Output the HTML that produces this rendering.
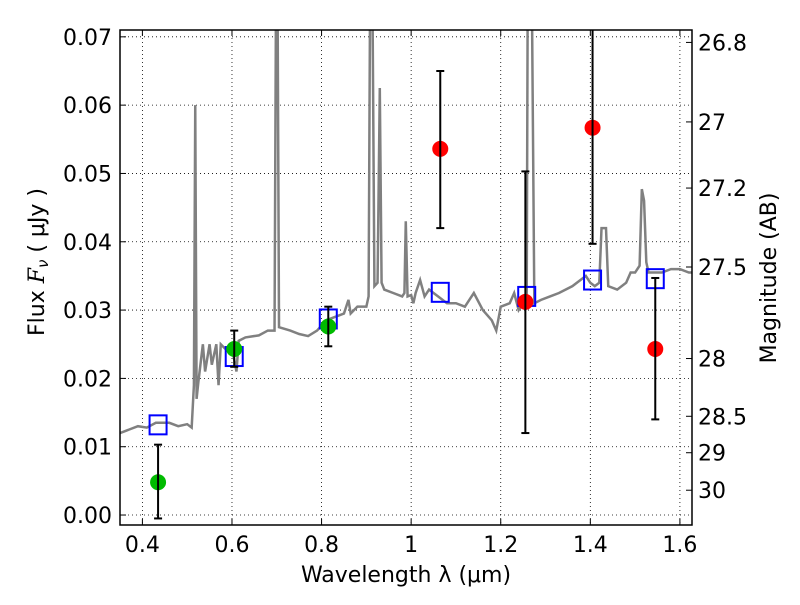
<!DOCTYPE html>
<html><head><meta charset="utf-8"><style>
body{margin:0;background:#fff}
svg text{font-family:"DejaVu Sans","Liberation Sans",sans-serif;font-size:22px;fill:#000}
</style></head><body>
<svg id="c" width="800" height="600" xmlns="http://www.w3.org/2000/svg"></svg>
<script>
const specX=[0.35,0.37,0.39,0.41,0.43,0.46,0.48,0.50,0.51,0.515,0.518,0.521,0.525,0.535,0.54,0.55,0.555,0.565,0.57,0.575,0.59,0.60,0.61,0.615,0.63,0.66,0.68,0.695,0.698,0.702,0.705,0.73,0.75,0.77,0.79,0.81,0.83,0.85,0.86,0.865,0.88,0.9,0.905,0.908,0.914,0.918,0.925,0.93,0.934,0.94,0.96,0.98,0.985,0.988,0.992,1.0,1.005,1.01,1.02,1.03,1.04,1.06,1.08,1.1,1.12,1.13,1.14,1.16,1.18,1.19,1.2,1.22,1.23,1.24,1.25,1.258,1.26,1.27,1.275,1.29,1.31,1.33,1.36,1.39,1.4,1.41,1.42,1.425,1.435,1.44,1.46,1.48,1.49,1.5,1.51,1.515,1.52,1.525,1.53,1.56,1.58,1.6,1.62,1.627];
const specY=[0.012,0.0125,0.013,0.0128,0.0135,0.0135,0.013,0.0133,0.0128,0.019,0.060,0.017,0.0195,0.025,0.021,0.025,0.022,0.025,0.019,0.025,0.024,0.0245,0.021,0.0255,0.026,0.0263,0.027,0.027,0.072,0.072,0.0275,0.027,0.0265,0.0262,0.027,0.0285,0.029,0.0295,0.0315,0.0295,0.0305,0.0305,0.032,0.072,0.072,0.0335,0.034,0.0625,0.034,0.033,0.0325,0.032,0.0325,0.043,0.032,0.0322,0.031,0.0325,0.0344,0.032,0.033,0.032,0.031,0.031,0.0305,0.0315,0.0325,0.030,0.0285,0.027,0.0305,0.031,0.0325,0.030,0.031,0.032,0.072,0.072,0.031,0.0315,0.032,0.0325,0.0335,0.035,0.034,0.0335,0.034,0.042,0.042,0.0335,0.033,0.034,0.0355,0.0355,0.0365,0.0477,0.046,0.037,0.0355,0.0355,0.036,0.036,0.0355,0.0355];
const greenX=[0.435,0.605,0.815], greenY=[0.0048,0.0243,0.0276], greenLo=[-0.0005,0.0217,0.0247], greenHi=[0.0103,0.0270,0.0305];
const redX=[1.065,1.255,1.405,1.545], redY=[0.0536,0.0312,0.0567,0.0243], redLo=[0.042,0.012,0.0397,0.014], redHi=[0.065,0.0503,0.074,0.0347];
const modelX=[0.435,0.605,0.815,1.065,1.258,1.405,1.545], modelY=[0.0132,0.0232,0.0287,0.0326,0.0320,0.0344,0.0346];
const xTicks=[0.4,0.6,0.8,1.0,1.2,1.4,1.6], xTickLabels=["0.4","0.6","0.8","1","1.2","1.4","1.6"];
const yTicks=[0,0.01,0.02,0.03,0.04,0.05,0.06,0.07], yTickLabels=["0.00","0.01","0.02","0.03","0.04","0.05","0.06","0.07"];
const magTicks=[26.8,27,27.2,27.5,28,28.5,29,30], magLabels=["26.8","27","27.2","27.5","28","28.5","29","30"];
const L=120,R=692,T=30,B=525;
const x0=0.35,x1=1.627,y0=-0.00146,y1=0.0710;
const X=v=>L+(v-x0)/(x1-x0)*(R-L);
const Y=v=>B-(v-y0)/(y1-y0)*(B-T);
const svg=document.getElementById('c');
const NS='http://www.w3.org/2000/svg';
function mk(tag,attrs,parent){const e=document.createElementNS(NS,tag);for(const k in attrs)e.setAttribute(k,attrs[k]);(parent||svg).appendChild(e);return e;}
const defs=mk('defs',{});const cp=mk('clipPath',{id:'clip'},defs);mk('rect',{x:L,y:T,width:R-L,height:B-T},cp);
xTicks.forEach((t,i)=>{const g=mk('line',{x1:X(t),x2:X(t),y1:T,y2:B,stroke:'#000','stroke-width':0.8,'stroke-dasharray':'1,3'});


mk('line',{x1:X(t),x2:X(t),y1:B,y2:B-6,stroke:'#000'});mk('line',{x1:X(t),x2:X(t),y1:T,y2:T+6,stroke:'#000'});
const tx=mk('text',{x:X(t),y:B+27,'text-anchor':'middle'});tx.textContent=xTickLabels[i];

});
yTicks.forEach((t,i)=>{const g=mk('line',{x1:L,x2:R,y1:Y(t),y2:Y(t),stroke:'#000','stroke-width':0.8,'stroke-dasharray':'1,3'});


mk('line',{x1:L,x2:L+6,y1:Y(t),y2:Y(t),stroke:'#000'});
const tx=mk('text',{x:L-8,y:Y(t)+8,'text-anchor':'end'});tx.textContent=yTickLabels[i];

});
magTicks.forEach((m,i)=>{const f=Math.pow(10,(23.9-m)/2.5);const y=Y(f);
mk('line',{x1:R,x2:R-6,y1:y,y2:y,stroke:'#000'});
const tx=mk('text',{x:R+6,y:y+8,'text-anchor':'start'});tx.textContent=magLabels[i];

});
const pl=mk('polyline',{points:specX.map((v,i)=>X(v)+','+Y(specY[i])).join(' '),fill:'none',stroke:'#808080','stroke-width':2.5,'clip-path':'url(#clip)'});


modelX.forEach((v,i)=>{const r=mk('rect',{x:X(v)-8.5,y:Y(modelY[i])-9.5,width:17,height:19,fill:'none',stroke:'#0000ff','stroke-width':2});

});
function pts(xs,ys,lo,hi,col,name){xs.forEach((v,i)=>{const g=mk('g',{'clip-path':'url(#clip)'});
const c=mk('circle',{cx:X(v),cy:Y(ys[i]),r:8,fill:col},g);


mk('line',{x1:X(v),x2:X(v),y1:Y(lo[i]),y2:Y(hi[i]),stroke:'#000','stroke-width':2},g);
mk('line',{x1:X(v)-4,x2:X(v)+4,y1:Y(lo[i]),y2:Y(lo[i]),stroke:'#000','stroke-width':2},g);
mk('line',{x1:X(v)-4,x2:X(v)+4,y1:Y(hi[i]),y2:Y(hi[i]),stroke:'#000','stroke-width':2},g);});}
pts(greenX,greenY,greenLo,greenHi,'#00bb00','detection-point');
pts(redX,redY,redLo,redHi,'#ff0000','nondetection-point');
const fr=mk('rect',{x:L,y:T,width:R-L,height:B-T,fill:'none',stroke:'#000','stroke-width':1.5});


</script>
<svg style="position:absolute;left:0;top:0" width="800" height="600" xmlns="http://www.w3.org/2000/svg">
<text x="406" y="582" text-anchor="middle" style="font-family:'DejaVu Sans','Liberation Sans',sans-serif;font-size:22px">Wavelength  λ (μm)</text>
<text transform="translate(44,262) rotate(-90)" text-anchor="middle" style="font-family:'DejaVu Sans','Liberation Sans',sans-serif;font-size:22px">Flux  <tspan font-style="italic" font-family="DejaVu Serif">F</tspan><tspan font-style="italic" font-size="15" dy="4">ν</tspan><tspan dy="-4">  ( μJy )</tspan></text>
<text transform="translate(776,278) rotate(-90)" text-anchor="middle" style="font-family:'DejaVu Sans','Liberation Sans',sans-serif;font-size:22px">Magnitude (AB)</text>
</svg>
</body></html>
